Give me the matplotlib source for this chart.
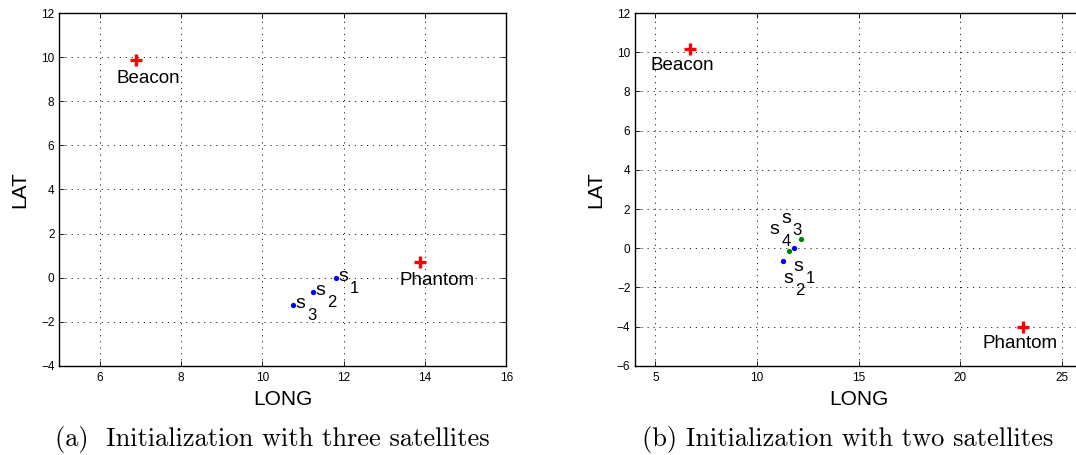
import matplotlib
matplotlib.use("Agg")
import matplotlib.pyplot as plt

# panel (a): initialization with three satellites
a_beacon = (6.9, 9.85)
a_phantom = (13.87, 0.73)
a_sat_x = [11.8, 11.25, 10.75]
a_sat_y = [0.0, -0.64, -1.24]
a_sat_names = ["1", "2", "3"]
a_lab_x = [11.87, 11.31, 10.81]
a_lab_y = [-0.14, -0.79, -1.39]
a_beacon_lab = (7.19, 8.82)
a_phantom_lab = (14.3, -0.33)

# panel (b): initialization with two satellites
b_beacon = (6.72, 10.16)
b_phantom = (23.08, -4.0)
b_blue_x = [11.8, 11.26]
b_blue_y = [0.0, -0.64]
b_green_x = [12.16, 11.6]
b_green_y = [0.47, -0.15]
b_lab_names = ["3", "4", "1", "2"]
b_lab_x = [11.18, 10.62, 11.8, 11.3]
b_lab_y = [1.27, 0.71, -1.15, -1.76]
b_beacon_lab = (6.31, 9.07)
b_phantom_lab = (22.94, -5.11)

SANS = "Liberation Sans"
plt.rcParams["font.family"] = [SANS, "DejaVu Sans"]


def style_axes(ax, xlim, ylim, xticks, yticks):
    ax.set_xlim(*xlim)
    ax.set_ylim(*ylim)
    ax.set_xticks(xticks)
    ax.set_yticks(yticks)
    ax.grid(True, color="#222222", linewidth=0.7, linestyle=(0, (1.2, 5)))
    ax.tick_params(direction="in", top=True, right=True, length=3.5, width=0.6,
                   labelsize=8.5, colors="black")
    ax.tick_params(axis="x", pad=4.5)
    ax.tick_params(axis="y", pad=3.4)
    for s in ax.spines.values():
        s.set_linewidth(1.0)
    ax.set_xlabel("LONG", fontsize=15)
    ax.set_ylabel("LAT", fontsize=15)
    ax.xaxis.set_label_coords(0.5, -0.069)
    ax.yaxis.set_label_coords(-0.067, 0.5)


def sat_label(ax, x, y, name):
    ax.text(x, y, "s", fontsize=14, ha="left", va="baseline")
    ax.annotate(name, xy=(x, y), xytext=(8.5, -8.5), textcoords="offset points",
                fontsize=12, ha="left", va="baseline")


def cross(ax, pt):
    ax.plot([pt[0]], [pt[1]], "+", color="red", markersize=8.5, markeredgewidth=2.4)


fig = plt.figure(figsize=(10.76, 4.55), dpi=100)

# (a)
ax1 = fig.add_axes([0.055, 0.196, 0.4155, 0.7754])
style_axes(ax1, (5, 16), (-4, 12), range(6, 17, 2), range(-4, 13, 2))
cross(ax1, a_beacon)
cross(ax1, a_phantom)
ax1.plot(a_sat_x, a_sat_y, "o", color="blue", markersize=3.8, markeredgewidth=0)
for x, y, n in zip(a_lab_x, a_lab_y, a_sat_names):
    sat_label(ax1, x, y, n)
ax1.text(*a_beacon_lab, "Beacon", fontsize=13.5, ha="center", va="baseline")
ax1.text(*a_phantom_lab, "Phantom", fontsize=13.5, ha="center", va="baseline")

# (b)
ax2 = fig.add_axes([0.5902, 0.196, 0.4154, 0.7754])
style_axes(ax2, (4, 26), (-6, 12), range(5, 26, 5), range(-6, 13, 2))
cross(ax2, b_beacon)
cross(ax2, b_phantom)
ax2.plot(b_blue_x, b_blue_y, "o", color="blue", markersize=3.8, markeredgewidth=0)
ax2.plot(b_green_x, b_green_y, "o", color="#008000", markersize=3.8, markeredgewidth=0)
for x, y, n in zip(b_lab_x, b_lab_y, b_lab_names):
    sat_label(ax2, x, y, n)
ax2.text(*b_beacon_lab, "Beacon", fontsize=13.5, ha="center", va="baseline")
ax2.text(*b_phantom_lab, "Phantom", fontsize=13.5, ha="center", va="baseline")

# captions
fig.text(272 / 1076, 1 - 446 / 455, "(a)  Initialization with three satellites",
         family="cmr10", fontsize=19, ha="center", va="baseline")
fig.text(848 / 1076, 1 - 446 / 455, "(b) Initialization with two satellites",
         family="cmr10", fontsize=19, ha="center", va="baseline")

fig.savefig("out.png", dpi=100)
plt.close(fig)
